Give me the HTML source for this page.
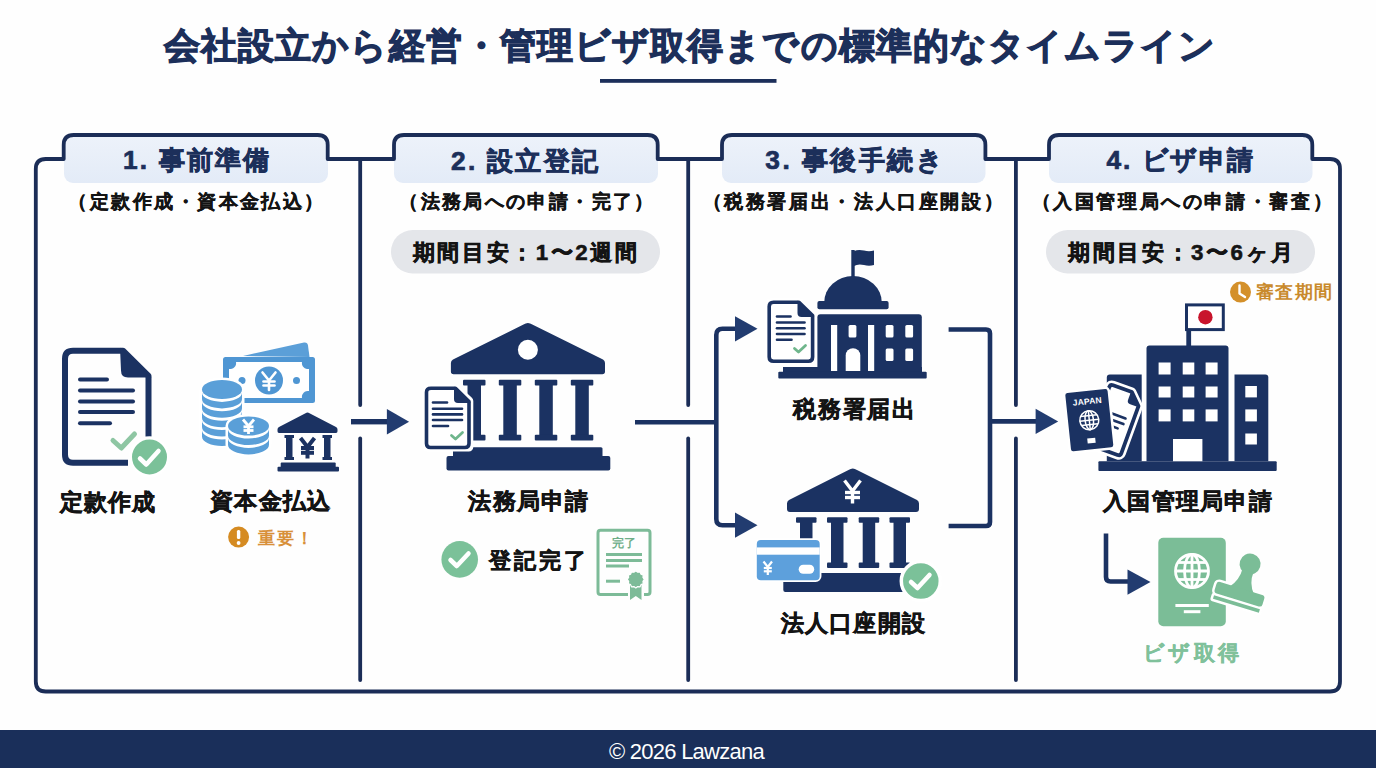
<!DOCTYPE html>
<html lang="ja">
<head>
<meta charset="utf-8">
<style>
html,body{margin:0;padding:0;}
body{width:1376px;height:768px;position:relative;overflow:hidden;background:#fefefe;font-family:"Liberation Sans",sans-serif;}
.t{position:absolute;line-height:1;font-weight:700;white-space:nowrap;}
svg{position:absolute;left:0;top:0;}
#footer{position:absolute;left:0;top:730px;width:1376px;height:38px;background:#1a2f5a;}
</style>
</head>
<body>
<svg width="1376" height="768" viewBox="0 0 1376 768">
  <!-- title underline -->
  <rect x="600" y="79" width="176.5" height="3.8" fill="#1c2f5a"/>
  <!-- tab fills -->
  <defs><linearGradient id="tabg" x1="0" y1="0" x2="0" y2="1"><stop offset="0" stop-color="#edf2fa"/><stop offset="1" stop-color="#e3ebf7"/></linearGradient></defs>
  <g fill="url(#tabg)">
    <rect x="64" y="135.5" width="264" height="47.5" rx="9"/>
    <rect x="394" y="135.5" width="264" height="47.5" rx="9"/>
    <rect x="722" y="135.5" width="263.5" height="47.5" rx="9"/>
    <rect x="1049" y="135.5" width="263.5" height="47.5" rx="9"/>
  </g>
  <!-- frame -->
  <path fill="none" stroke="#1b2d57" stroke-width="3.8" stroke-linejoin="round"
    d="M35.8 169 Q35.8 159 45.8 159 L63.7 159 L63.7 145 Q63.7 135 73.7 135 L317.7 135 Q327.7 135 327.7 145 L327.7 159
       L394 159 L394 145 Q394 135 404 135 L647.7 135 Q657.7 135 657.7 145 L657.7 159
       L722 159 L722 145 Q722 135 732 135 L975.4 135 Q985.4 135 985.4 145 L985.4 159
       L1049 159 L1049 145 Q1049 135 1059 135 L1302.3 135 Q1312.3 135 1312.3 145 L1312.3 159
       L1330 159 Q1340 159 1340 169 L1340 681.5 Q1340 691.5 1330 691.5 L45.8 691.5 Q35.8 691.5 35.8 681.5 Z"/>
  <!-- dividers -->
  <g stroke="#1b2d57" stroke-width="3.8" stroke-linecap="round">
    <line x1="360.2" y1="159" x2="360.2" y2="405"/>
    <line x1="360.2" y1="438.5" x2="360.2" y2="680"/>
    <line x1="688.2" y1="159" x2="688.2" y2="405"/>
    <line x1="688.2" y1="438.5" x2="688.2" y2="680"/>
    <line x1="1015.9" y1="159" x2="1015.9" y2="405"/>
    <line x1="1015.9" y1="438.5" x2="1015.9" y2="680"/>
  </g>
  <!-- pills -->
  <rect x="391" y="230" width="269" height="43.5" rx="21.75" fill="#e4e6ea"/>
  <rect x="1046" y="230" width="269" height="43.5" rx="21.75" fill="#e4e6ea"/>

  <!-- ===== ICONS ===== -->
  <!-- col1: document -->
  <g id="doc1">
    <path fill="none" stroke="#1b3262" stroke-width="6" stroke-linecap="butt" stroke-linejoin="round"
      d="M148.5 436.5 L148.5 376 L123 350.7 L73 350.7 Q65 350.7 65 358.7 L65 454.8 Q65 462.8 73 462.8 L128 462.8"/>
    <path fill="#1b3262" d="M120 347.7 L151.5 377.5 L128 377.5 Q121 377.5 121 370.5 Z"/>
    <g stroke="#1b3262" stroke-width="4" stroke-linecap="round">
      <line x1="80" y1="379.5" x2="107" y2="379.5"/>
      <line x1="80" y1="390.6" x2="133" y2="390.6"/>
      <line x1="80" y1="401.4" x2="133" y2="401.4"/>
      <line x1="80" y1="412.1" x2="133" y2="412.1"/>
      <line x1="80" y1="423.2" x2="110" y2="423.2"/>
    </g>
    <polyline points="113,440.5 121.3,448 134.5,434" fill="none" stroke="#8ec6a3" stroke-width="5" stroke-linecap="round" stroke-linejoin="round"/>
    <circle cx="149.5" cy="457" r="19" fill="#7bc199" stroke="#fff" stroke-width="3"/>
    <polyline points="140,458.5 146.3,464.5 158.5,451" fill="none" stroke="#fff" stroke-width="4.5" stroke-linecap="round" stroke-linejoin="round"/>
  </g>

  <!-- col1: money -->
  <g id="money">
    <path fill="#5b9fd8" d="M243 356 L304 342.5 Q307.5 342 308 345.5 L309.5 357 Z"/>
    <rect x="223" y="357" width="92" height="46" rx="2.5" fill="#4f96d3"/>
    <path fill="#fff" d="M236 362 L302 362 A6 6 0 0 0 309 369 L309 391 A6 6 0 0 0 302 398 L236 398 A6 6 0 0 0 229 391 L229 369 A6 6 0 0 0 236 362 Z"/>
    <circle cx="269" cy="380.5" r="14" fill="#4f96d3"/>
    <circle cx="296.5" cy="380.5" r="3.5" fill="#4f96d3"/>
    <circle cx="242" cy="380.5" r="3.5" fill="#4f96d3"/>
    <g stroke="#fff" stroke-width="2.6" fill="none" stroke-linecap="round">
      <polyline points="262.5,372.5 269,380.5 275.5,372.5"/>
      <line x1="269" y1="380.5" x2="269" y2="390"/>
      <line x1="263.5" y1="381.5" x2="274.5" y2="381.5"/>
      <line x1="263.5" y1="385.5" x2="274.5" y2="385.5"/>
    </g>
    <!-- left coin stack -->
    <path d="M202 389.5 A20 9.5 0 0 1 242 389.5 L242 436.5 A20 9.5 0 0 1 202 436.5 Z" fill="#fff" stroke="#fff" stroke-width="5"/>
    <path d="M202 392.4 A20 9.5 0 0 0 242 392.4 L242 398.9 A20 9.5 0 0 1 202 398.9 Z" fill="#5a9fd8"/>
    <path d="M202 401.8 A20 9.5 0 0 0 242 401.8 L242 408.3 A20 9.5 0 0 1 202 408.3 Z" fill="#5a9fd8"/>
    <path d="M202 411.2 A20 9.5 0 0 0 242 411.2 L242 417.7 A20 9.5 0 0 1 202 417.7 Z" fill="#5a9fd8"/>
    <path d="M202 420.6 A20 9.5 0 0 0 242 420.6 L242 427.1 A20 9.5 0 0 1 202 427.1 Z" fill="#5a9fd8"/>
    <path d="M202 430.0 A20 9.5 0 0 0 242 430.0 L242 436.5 A20 9.5 0 0 1 202 436.5 Z" fill="#5a9fd8"/>
    <ellipse cx="222" cy="389.5" rx="20" ry="9.5" fill="#5a9fd8"/>
    <!-- right coin stack -->
    <path d="M228.0 426 A20.5 9.6 0 0 1 269.0 426 L269.0 444.8 A20.5 9.6 0 0 1 228.0 444.8 Z" fill="#fff" stroke="#fff" stroke-width="5"/>
    <path d="M228.0 428.9 A20.5 9.6 0 0 0 269.0 428.9 L269.0 435.4 A20.5 9.6 0 0 1 228.0 435.4 Z" fill="#5a9fd8"/>
    <path d="M228.0 438.3 A20.5 9.6 0 0 0 269.0 438.3 L269.0 444.8 A20.5 9.6 0 0 1 228.0 444.8 Z" fill="#5a9fd8"/>
    <ellipse cx="248.5" cy="426" rx="20.5" ry="9.6" fill="#5a9fd8"/>
    <g stroke="#fff" stroke-width="2.8" fill="none" stroke-linecap="butt">
      <polyline points="243,419.5 248.5,426 254,419.5"/>
      <line x1="248.5" y1="425.5" x2="248.5" y2="434"/>
      <line x1="243.5" y1="426.8" x2="253.5" y2="426.8"/>
      <line x1="243.5" y1="430.5" x2="253.5" y2="430.5"/>
    </g>
    <!-- small bank -->
    <g fill="#1b3262">
      <path d="M305.5 413.2 Q307.5 411.8 309.5 413.2 L336 427 Q337.5 427.8 337.5 429.5 L337.5 431.3 Q337.5 433 336 433 L279 433 Q277.5 433 277.5 431.3 L277.5 429.5 Q277.5 427.8 279 427 Z"/>
      <rect x="284.5" y="435" width="9.5" height="3"/>
      <rect x="286" y="435" width="6.5" height="25"/>
      <rect x="284.5" y="457" width="9.5" height="3"/>
      <rect x="322.5" y="435" width="9.5" height="3"/>
      <rect x="324" y="435" width="6.5" height="25"/>
      <rect x="322.5" y="457" width="9.5" height="3"/>
      <rect x="280.7" y="462.5" width="55" height="6" rx="1"/><rect x="277.5" y="466.8" width="61.5" height="4.6" rx="1"/>
    </g>
    <g stroke="#1b3262" stroke-width="4" fill="none" stroke-linecap="butt">
      <polyline points="300.5,438 307.5,447 314.5,438"/>
      <line x1="307.5" y1="446.5" x2="307.5" y2="458.5"/>
      <line x1="301" y1="448" x2="314" y2="448"/>
      <line x1="301" y1="452.8" x2="314" y2="452.8"/>
    </g>
  </g>


  <!-- exclamation -->
  <circle cx="238.6" cy="537.1" r="10.5" fill="#d58b22"/>
  <rect x="236.9" y="530" width="3.4" height="9" rx="1.5" fill="#fff"/>
  <circle cx="238.6" cy="543" r="1.9" fill="#fff"/>

  <!-- col2: bank -->
  <g fill="#1b3262">
    <path d="M523.5 324.5 Q527.9 321.5 532.3 324.5 L603 359.5 Q605 360.5 605 363 L605 371.5 Q605 374.2 602.3 374.2 L453.6 374.2 Q450.9 374.2 450.9 371.5 L450.9 363 Q450.9 360.5 453 359.5 Z"/>
    <rect x="463" y="379.7" width="22.5" height="5.8" rx="1"/>
    <rect x="467.5" y="384" width="13.5" height="52"/>
    <rect x="463" y="434.7" width="22.5" height="5.8" rx="1"/>
    <rect x="498.8" y="379.7" width="22.5" height="5.8" rx="1"/>
    <rect x="503.3" y="384" width="13.5" height="52"/>
    <rect x="498.8" y="434.7" width="22.5" height="5.8" rx="1"/>
    <rect x="534.8" y="379.7" width="22.5" height="5.8" rx="1"/>
    <rect x="539.3" y="384" width="13.5" height="52"/>
    <rect x="534.8" y="434.7" width="22.5" height="5.8" rx="1"/>
    <rect x="570.8" y="379.7" width="22.5" height="5.8" rx="1"/>
    <rect x="575.3" y="384" width="13.5" height="52"/>
    <rect x="570.8" y="434.7" width="22.5" height="5.8" rx="1"/>
    <rect x="453" y="447.2" width="149.5" height="10" rx="1.5"/>
    <rect x="446.5" y="456" width="163.8" height="14.4" rx="2"/>
  </g>
  <circle cx="527.9" cy="349.8" r="10" fill="#fff"/>
  <!-- doc overlay col2 -->
  <path fill="#fff" stroke="#fff" stroke-width="9" stroke-linejoin="round"
    d="M427 389 L456 389 L468.8 401 L468.8 447 L427 447 Z"/>
  <path fill="#fff" stroke="#1b3262" stroke-width="3.6" stroke-linejoin="round"
    d="M431 388.3 L455.5 388.3 L469 401.5 L469 443.5 Q469 447.5 465 447.5 L430.5 447.5 Q426.5 447.5 426.5 443.5 L426.5 392.3 Q426.5 388.3 431 388.3 Z"/>
  <path fill="#1b3262" d="M454 386.5 L470.8 403 L458 403 Q454 403 454 399 Z"/>
  <g stroke="#1b3262" stroke-width="2.6" stroke-linecap="round">
    <line x1="433" y1="402.5" x2="447" y2="402.5"/>
    <line x1="433" y1="408.7" x2="462" y2="408.7"/>
    <line x1="433" y1="414.4" x2="462" y2="414.4"/>
    <line x1="433" y1="420" x2="462" y2="420"/>
    <line x1="433" y1="426" x2="448" y2="426"/>
  </g>
  <polyline points="451.5,435.5 455.5,439 462.5,432.5" fill="none" stroke="#6fb68c" stroke-width="2.8" stroke-linecap="round" stroke-linejoin="round"/>

  <!-- check circle col2 -->
  <circle cx="459.7" cy="559.4" r="18.3" fill="#7bc199"/>
  <polyline points="450.5,560 456.8,566 468.5,553.5" fill="none" stroke="#fff" stroke-width="4.5" stroke-linecap="round" stroke-linejoin="round"/>

  <!-- certificate -->
  <g fill="none" stroke="#7dbb98" stroke-width="3" stroke-linecap="butt">
    <path d="M628 594.5 L600.5 594.5 Q598 594.5 598 592 L598 533 Q598 530.3 600.5 530.3 L647.5 530.3 Q650 530.3 650 533 L650 592 Q650 594.5 647.5 594.5 L644 594.5"/>
    <line x1="606" y1="554.6" x2="642" y2="554.6"/>
    <line x1="606" y1="560.6" x2="642" y2="560.6"/>
    <line x1="606" y1="566" x2="629" y2="566"/>
    <line x1="606" y1="581.2" x2="620" y2="581.2"/>
  </g>
  <path fill="#7dbb98" d="M630 584 L630 600 L635.8 596 L641.5 600 L641.5 584 Z"/>
  <polygon points="644.40,579.40 642.95,581.32 643.25,583.70 641.03,584.63 640.10,586.85 637.72,586.55 635.80,588.00 633.88,586.55 631.50,586.85 630.57,584.63 628.35,583.70 628.65,581.32 627.20,579.40 628.65,577.48 628.35,575.10 630.57,574.17 631.50,571.95 633.88,572.25 635.80,570.80 637.72,572.25 640.10,571.95 641.03,574.17 643.25,575.10 642.95,577.48" fill="#7dbb98" stroke="#fff" stroke-width="1.2" stroke-linejoin="round"/>


  <!-- arrows col2->col3 -->
  <g fill="none" stroke="#1b3262" stroke-width="4.6" stroke-linejoin="round">
    <path d="M635 422.3 L716.3 422.3"/>
    <path d="M738 328.8 L722.5 328.8 Q716.3 328.8 716.3 335 L716.3 519 Q716.3 525.2 722.5 525.2 L738 525.2"/>
  </g>
  <g fill="#1b3262">
    <path fill="#223c70" d="M735 316.2 L757.5 328.8 L735 341.4 Z"/>
    <path fill="#223c70" d="M735 512.6 L757.5 525.2 L735 537.8 Z"/>
  </g>
  <!-- arrows col3->col4 -->
  <g fill="none" stroke="#1b3262" stroke-width="4.6" stroke-linejoin="round">
    <path d="M948.6 329.5 L986 329.5 Q990 329.5 990 333.5 L990 522 Q990 526 986 526 L948.6 526"/>
    <path d="M990 421.4 L1037 421.4"/>
  </g>
  <path fill="#223c70" d="M1035.6 408.8 L1058.2 421.4 L1035.6 434 Z"/>
  <!-- arrow col4 down -->
  <path fill="none" stroke="#1b3262" stroke-width="4.6" stroke-linejoin="round" d="M1106 533.5 L1106 577 Q1106 581.5 1110.5 581.5 L1129 581.5"/>
  <path fill="#223c70" d="M1127.5 569.5 L1150.5 582 L1127.5 594.8 Z"/>

  <!-- col3: government building -->
  <g fill="#1b3262">
    <rect x="851.3" y="250" width="3.4" height="28"/>
    <path d="M854 251.2 Q858 249 864 250.5 Q869 252 874 250.5 L874 265 Q869 266.5 864 265 Q858 263.5 854 266 Z"/>
    <path d="M824.2 302.5 A28.8 26.5 0 0 1 881.8 302.5 Z"/>
    <rect x="817.4" y="300.9" width="71.2" height="8.4" rx="2"/>
    <path d="M817.4 372.8 L817.4 317.2 Q817.4 314.2 820.4 314.2 L918.8 314.2 Q921.8 314.2 921.8 317.2 L921.8 372.8 Z"/>
    <rect x="783" y="367" width="139" height="6"/>
    <rect x="778.3" y="371.8" width="148.4" height="6.8" rx="1"/>
  </g>
  <g fill="#fff">
    <rect x="831" y="325" width="6.2" height="46"/>
    <rect x="868" y="325" width="6.2" height="46"/>
    <rect x="848.6" y="325" width="7.8" height="12.6" rx="1.5"/>
    <path d="M845.7 371 L845.7 355.5 A7.3 7.3 0 0 1 860.3 355.5 L860.3 371 Z"/>
    <rect x="885.7" y="325" width="7.8" height="12.6" rx="1.5"/>
    <rect x="905.3" y="325" width="7.8" height="12.6" rx="1.5"/>
    <rect x="885.7" y="348.4" width="7.8" height="12.6" rx="1.5"/>
    <rect x="905.3" y="348.4" width="7.8" height="12.6" rx="1.5"/>
  </g>
  <!-- doc overlay col3 -->
  <path fill="#fff" stroke="#fff" stroke-width="9" stroke-linejoin="round"
    d="M770 303 L800 303 L812 315 L812 361 L770 361 Z"/>
  <path fill="#fff" stroke="#1b3262" stroke-width="3.6" stroke-linejoin="round"
    d="M773.5 302.3 L799 302.3 L812.6 315.5 L812.6 357 Q812.6 361.2 808.5 361.2 L773.5 361.2 Q769.2 361.2 769.2 357 L769.2 306.5 Q769.2 302.3 773.5 302.3 Z"/>
  <path fill="#1b3262" d="M797.5 300.5 L814.4 317 L801.5 317 Q797.5 317 797.5 313 Z"/>
  <g stroke="#1b3262" stroke-width="2.6" stroke-linecap="round">
    <line x1="777" y1="316.5" x2="790.5" y2="316.5"/>
    <line x1="777" y1="322.5" x2="804.5" y2="322.5"/>
    <line x1="777" y1="328.2" x2="804.5" y2="328.2"/>
    <line x1="777" y1="334" x2="804.5" y2="334"/>
    <line x1="777" y1="339.8" x2="791.5" y2="339.8"/>
  </g>
  <polyline points="794.5,348.5 798.5,352 805.5,345.5" fill="none" stroke="#6fb68c" stroke-width="2.8" stroke-linecap="round" stroke-linejoin="round"/>

  <!-- col3: bank with yen -->
  <g fill="#1b3262">
    <path d="M848.5 470 Q852.8 467 857 470 L917 500 Q919 501 919 503.5 L919 509 Q919 512 916 512 L790 512 Q787 512 787 509 L787 503.5 Q787 501 789 500 Z"/>
    <rect x="796" y="517.2" width="20.5" height="5.5" rx="1"/>
    <rect x="800" y="521" width="12.5" height="43"/>
    <rect x="796" y="562.5" width="20.5" height="5.5" rx="1"/>
    <rect x="827" y="517.2" width="20.5" height="5.5" rx="1"/>
    <rect x="831" y="521" width="12.5" height="43"/>
    <rect x="827" y="562.5" width="20.5" height="5.5" rx="1"/>
    <rect x="858.7" y="517.2" width="20.5" height="5.5" rx="1"/>
    <rect x="862.7" y="521" width="12.5" height="43"/>
    <rect x="858.7" y="562.5" width="20.5" height="5.5" rx="1"/>
    <rect x="889.5" y="517.2" width="20.5" height="5.5" rx="1"/>
    <rect x="893.5" y="521" width="12.5" height="43"/>
    <rect x="889.5" y="562.5" width="20.5" height="5.5" rx="1"/>
    <rect x="783.3" y="573" width="137" height="19" rx="2"/>
  </g>
  <g stroke="#fff" stroke-width="3.4" fill="none">
    <polyline points="844.5,480.5 852.5,491 860.5,480.5"/>
    <line x1="852.5" y1="491" x2="852.5" y2="503.5"/>
    <line x1="845" y1="492.5" x2="860" y2="492.5"/>
    <line x1="845" y1="497.5" x2="860" y2="497.5"/>
  </g>
  <!-- card -->
  <rect x="756.8" y="540.1" width="62.9" height="40.1" rx="4" fill="#5da0dc" stroke="#fff" stroke-width="3.5"/>
  <rect x="756.8" y="540.1" width="62.9" height="40.1" rx="4" fill="#5da0dc"/>
  <rect x="756.8" y="547.4" width="62.9" height="7.3" fill="#fff"/>
  <rect x="798.7" y="564.7" width="15.5" height="9.1" rx="4.5" fill="#fff"/>
  <g stroke="#fff" stroke-width="2.2" fill="none">
    <polyline points="763.5,561.5 767.8,567 772,561.5"/>
    <line x1="767.8" y1="567" x2="767.8" y2="575"/>
    <line x1="763.8" y1="568" x2="771.8" y2="568"/>
    <line x1="763.8" y1="571.3" x2="771.8" y2="571.3"/>
  </g>
  <!-- check col3 -->
  <circle cx="920.8" cy="581.1" r="19.5" fill="#7bc199" stroke="#fff" stroke-width="3.5"/>
  <polyline points="911,582 917.5,588 929.5,575" fill="none" stroke="#fff" stroke-width="4.5" stroke-linecap="round" stroke-linejoin="round"/>


  <!-- clock -->
  <circle cx="1240.5" cy="292.1" r="10.5" fill="#d4902a"/>
  <path d="M1239.5 285.5 L1239.5 293.5 L1245 297" fill="none" stroke="#fff" stroke-width="2.4" stroke-linecap="round" stroke-linejoin="round"/>

  <!-- col4: immigration building -->
  <g fill="#1b3262">
    <rect x="1186.3" y="329" width="4.8" height="17"/>
    <path d="M1146.5 461.2 L1146.5 348.6 Q1146.5 345.6 1149.5 345.6 L1225.5 345.6 Q1228.5 345.6 1228.5 348.6 L1228.5 461.2 Z"/>
    <path d="M1106.8 461.2 L1106.8 377.5 Q1106.8 374.5 1109.8 374.5 L1141.7 374.5 L1141.7 461.2 Z"/>
    <path d="M1234.5 461.2 L1234.5 374.5 L1265.3 374.5 Q1268.3 374.5 1268.3 377.5 L1268.3 461.2 Z"/>
    <rect x="1098.4" y="461.2" width="178.3" height="9.7" rx="1"/>
  </g>
  <rect x="1186.5" y="304.9" width="36.8" height="24.7" fill="#fff" stroke="#1b3262" stroke-width="3"/>
  <circle cx="1205.4" cy="317.2" r="7.2" fill="#c8142c"/>
  <g fill="#fff">
    <rect x="1158.6" y="362.5" width="12" height="12"/>
    <rect x="1182.7" y="362.5" width="11.6" height="12"/>
    <rect x="1205.6" y="362.5" width="12" height="12"/>
    <rect x="1158.6" y="386.5" width="12" height="11"/>
    <rect x="1182.7" y="386.5" width="11.6" height="11"/>
    <rect x="1205.6" y="386.5" width="12" height="11"/>
    <rect x="1158.6" y="409.4" width="12" height="12"/>
    <rect x="1182.7" y="409.4" width="11.6" height="12"/>
    <rect x="1205.6" y="409.4" width="12" height="12"/>
    <rect x="1173" y="439" width="29.4" height="22.2"/>
    <rect x="1245.3" y="386" width="11.6" height="11.4"/>
    <rect x="1245.3" y="409.4" width="11.6" height="12"/>
    <rect x="1245.3" y="433.5" width="11.6" height="11"/>
  </g>
  <!-- papers behind passport -->
  <g transform="translate(1115,421) rotate(20)">
    <path d="M-17 -30 Q-17 -33 -14 -33 L6 -33 L17 -22 L17 28 Q17 31 14 31 L-14 31 Q-17 31 -17 28 Z" fill="#fff" stroke="#fff" stroke-width="9" stroke-linejoin="round"/>
    <path d="M-17 -30 Q-17 -33 -14 -33 L6 -33 L17 -22 L17 28 Q17 31 14 31 L-14 31 Q-17 31 -17 28 Z" fill="#fff" stroke="#1b3262" stroke-width="3.8" stroke-linejoin="round"/>
    <path d="M5 -35 L19 -21 L8.5 -21 Q5 -21 5 -24.5 Z" fill="#1b3262"/>
    <g stroke="#1b3262" stroke-width="2.6" stroke-linecap="round">
      <line x1="-6" y1="-6" x2="9" y2="-6"/>
      <line x1="-6" y1="0" x2="9" y2="0"/>
      <line x1="-6" y1="6" x2="5" y2="6"/>
    </g>
  </g>
  <!-- passport -->
  <g transform="translate(1089.3,420.2) rotate(-6)">
    <rect x="-22.5" y="-30.5" width="45" height="61" rx="3.5" fill="#1b3262" stroke="#fff" stroke-width="2.5"/>
    <text x="0" y="-16" text-anchor="middle" font-family="Liberation Sans" font-weight="700" font-size="8.5" letter-spacing="0.2" fill="#fff">JAPAN</text>
    <g fill="none" stroke="#fff" stroke-width="1.5">
      <circle cx="0" cy="0" r="9.5"/>
      <ellipse cx="0" cy="0" rx="4.2" ry="9.5"/>
      <line x1="0" y1="-9.5" x2="0" y2="9.5"/>
      <line x1="-9.5" y1="0" x2="9.5" y2="0"/>
      <line x1="-8.3" y1="-4.5" x2="8.3" y2="-4.5"/>
      <line x1="-8.3" y1="4.5" x2="8.3" y2="4.5"/>
    </g>
    <rect x="-4" y="18" width="8" height="5" fill="#fff"/>
  </g>

  <!-- visa passport -->
  <rect x="1158.3" y="537.7" width="67.5" height="88.6" rx="5" fill="#7bbd97"/>
  <g fill="none" stroke="#fff" stroke-width="2.8">
    <circle cx="1192" cy="571" r="16.5"/>
    <ellipse cx="1192" cy="571" rx="7.5" ry="16.5"/>
    <line x1="1192" y1="554.5" x2="1192" y2="587.5"/>
    <line x1="1175.5" y1="571" x2="1208.5" y2="571"/>
    <line x1="1177.5" y1="562.5" x2="1206.5" y2="562.5"/>
    <line x1="1177.5" y1="579.5" x2="1206.5" y2="579.5"/>
  </g>
  <g stroke="#fff" stroke-width="3" stroke-linecap="butt">
    <line x1="1175.4" y1="605.4" x2="1208.8" y2="605.4"/>
    <line x1="1183.8" y1="611.7" x2="1200.4" y2="611.7"/>
  </g>
  <!-- stamp -->
  <g transform="translate(1238,599) rotate(17)">
    <g fill="#7bbd97" stroke="#fff" stroke-width="5" stroke-linejoin="round">
      <rect x="-25" y="-11" width="50" height="12" rx="3"/>
      <rect x="-24" y="3.5" width="48" height="3.6"/>
    </g>
    <g fill="#7bbd97">
      <circle cx="1.3" cy="-37" r="10.5"/>
      <path d="M-4.5 -30 L7 -30 Q6 -18 14 -9 L-12 -9 Q-4 -18 -4.5 -30 Z"/>
      <rect x="-25" y="-11" width="50" height="12" rx="3"/>
      <rect x="-24" y="3.5" width="48" height="3.6"/>
    </g>
  </g>

  <!-- arrow col1->col2 -->
  <g fill="#1b3262">
    <rect x="351" y="419" width="37" height="5.4"/>
    <path fill="#223c70" d="M386.9 409.1 L409.1 421.7 L386.9 434.5 Z"/>
  </g>
</svg>
<div class="t" style="left:164.0px;top:28.5px;font-size:35.50px;letter-spacing:1.09px;-webkit-text-stroke:1.14px #1c2f5a;color:#1c2f5a">会社設立から経営・管理ビザ取得までの標準的なタイムライン</div>
<div class="t" style="left:123.0px;top:147.0px;font-size:26.30px;letter-spacing:2.10px;-webkit-text-stroke:0.71px #1c2f5a;color:#1c2f5a">1. 事前準備</div>
<div class="t" style="left:451.0px;top:147.5px;font-size:26.30px;letter-spacing:2.27px;-webkit-text-stroke:0.71px #1c2f5a;color:#1c2f5a">2. 設立登記</div>
<div class="t" style="left:765.3px;top:147.0px;font-size:26.30px;letter-spacing:2.49px;-webkit-text-stroke:0.71px #1c2f5a;color:#1c2f5a">3. 事後手続き</div>
<div class="t" style="left:1106.6px;top:146.5px;font-size:26.30px;letter-spacing:1.90px;-webkit-text-stroke:0.71px #1c2f5a;color:#1c2f5a">4. ビザ申請</div>
<div class="t" style="left:68.4px;top:192.2px;font-size:19.00px;letter-spacing:2.45px;-webkit-text-stroke:0.38px #141414;color:#141414">（定款作成・資本金払込）</div>
<div class="t" style="left:399.4px;top:192.2px;font-size:19.00px;letter-spacing:2.35px;-webkit-text-stroke:0.38px #141414;color:#141414">（法務局への申請・完了）</div>
<div class="t" style="left:702.6px;top:192.2px;font-size:19.00px;letter-spacing:2.62px;-webkit-text-stroke:0.38px #141414;color:#141414">（税務署届出・法人口座開設）</div>
<div class="t" style="left:1031.5px;top:192.2px;font-size:19.00px;letter-spacing:2.62px;-webkit-text-stroke:0.38px #141414;color:#141414">（入国管理局への申請・審査）</div>
<div class="t" style="left:412.7px;top:241.6px;font-size:22.30px;letter-spacing:2.61px;-webkit-text-stroke:0.56px #141414;color:#141414">期間目安：1〜2週間</div>
<div class="t" style="left:1068.4px;top:241.6px;font-size:22.30px;letter-spacing:2.54px;-webkit-text-stroke:0.56px #141414;color:#141414">期間目安：3〜6ヶ月</div>
<div class="t" style="left:59.7px;top:490.8px;font-size:22.80px;letter-spacing:0.97px;-webkit-text-stroke:0.57px #141414;color:#141414">定款作成</div>
<div class="t" style="left:210.2px;top:490.3px;font-size:22.80px;letter-spacing:1.23px;-webkit-text-stroke:0.57px #141414;color:#141414">資本金払込</div>
<div class="t" style="left:258.2px;top:529.8px;font-size:17.00px;letter-spacing:2.00px;-webkit-text-stroke:0.00px #d8903a;color:#d8903a">重要！</div>
<div class="t" style="left:468.4px;top:490.4px;font-size:22.80px;letter-spacing:1.12px;-webkit-text-stroke:0.57px #141414;color:#141414">法務局申請</div>
<div class="t" style="left:489.4px;top:549.8px;font-size:22.30px;letter-spacing:3.03px;-webkit-text-stroke:0.56px #141414;color:#141414">登記完了</div>
<div class="t" style="left:793.2px;top:398.4px;font-size:22.80px;letter-spacing:1.70px;-webkit-text-stroke:0.57px #141414;color:#141414">税務署届出</div>
<div class="t" style="left:780.7px;top:612.3px;font-size:22.80px;letter-spacing:1.26px;-webkit-text-stroke:0.57px #141414;color:#141414">法人口座開設</div>
<div class="t" style="left:1103.1px;top:490.0px;font-size:22.80px;letter-spacing:1.27px;-webkit-text-stroke:0.57px #141414;color:#141414">入国管理局申請</div>
<div class="t" style="left:1255.7px;top:284.1px;font-size:17.50px;letter-spacing:1.50px;-webkit-text-stroke:0.00px #c98a2c;color:#c98a2c">審査期間</div>
<div class="t" style="left:1143.0px;top:642.9px;font-size:20.50px;letter-spacing:3.33px;-webkit-text-stroke:0.41px #80c19b;color:#80c19b">ビザ取得</div>
<div class="t" style="left:612px;top:537.5px;font-size:11.5px;letter-spacing:0.3px;font-weight:700;color:#6fae89">完了</div>
<div id="footer"></div>
<div class="t" style="left:609px;top:740.5px;font-size:22px;font-weight:400;letter-spacing:-0.75px;color:#fff">© 2026 Lawzana</div>
</body>
</html>
